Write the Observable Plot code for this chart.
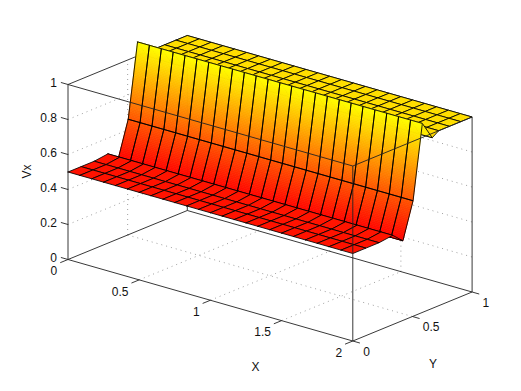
<!DOCTYPE html>
<html>
<head>
<meta charset="utf-8">
<script src="https://cdn.jsdelivr.net/npm/d3@7"></script>
<script src="https://cdn.jsdelivr.net/npm/@observablehq/plot@0.6"></script>
<style>html,body{margin:0;padding:0;background:#fff}svg{display:block}</style>
</head>
<body>
<div id="chart"></div>
<script>
// Surface
const xGrid = [0,0.083,0.167,0.25,0.333,0.417,0.5,0.583,0.667,0.75,0.833,0.917,1,1.083,1.167,1.25,1.333,1.417,1.5,1.583,1.667,1.75,1.833,1.917,2];
const yGrid = [0,0.11,0.22,0.335,0.42,0.505,0.583,0.666,0.72,0.81,0.905,1];
const zRow  = [0.5,0.5,0.5,0.51,0.455,0.66,1.08,0.975,1,1,1,1];
const wallRows = [4,5];       // rows whose faces are shaded by height
const xTicks = [0,0.5,1,1.5,2];
const yTicks = [0,0.5,1];
const zTicks = [0,0.2,0.4,0.6,0.8,1];
const tickText = v => String(v);

// Orthographic view of the (x, y, z) box
const px = d => 67.5 + 142.4 * d[0] + 119.3 * d[1];
const py = d => 259 + 40.75 * d[0] - 49 * d[1] - 175 * d[2];

const cell = (i, j, t0 = 0, t1 = 1) => {
  const ya = yGrid[j] + (yGrid[j+1] - yGrid[j]) * t0, yb = yGrid[j] + (yGrid[j+1] - yGrid[j]) * t1;
  const za = zRow[j] + (zRow[j+1] - zRow[j]) * t0, zb = zRow[j] + (zRow[j+1] - zRow[j]) * t1;
  return [[xGrid[i],ya,za],[xGrid[i+1],ya,za],[xGrid[i+1],yb,zb],[xGrid[i],yb,zb],[xGrid[i],ya,za]];
};
let nextId = 0;
const addFace = (out, pts, c) => { const id = nextId++; pts.forEach(p => out.push({p, id, c})); };
const flatFaces = rows => {
  const out = [];
  for (const j of rows) for (let i = 0; i < xGrid.length - 1; i++)
    addFace(out, cell(i, j), (zRow[j] + zRow[j+1]) / 2);
  return out;
};
const backRows = d3.range(yGrid.length - 2, 5, -1);
const plateau = flatFaces(backRows);
const floor = flatFaces([3,2,1,0]);
const wallShade = [], wallMesh = [];
for (const j of wallRows) {
  const n = Math.ceil(Math.abs(zRow[j+1] - zRow[j]) * 175 / 1.5);
  for (let i = 0; i < xGrid.length - 1; i++) {
    for (let k = 0; k < n; k++) addFace(wallShade, cell(i, j, k / n, (k + 1) / n), zRow[j] + (zRow[j+1] - zRow[j]) * (k + 0.5) / n);
    addFace(wallMesh, cell(i, j), 0);
  }
}

// Box edges as [from, to] in data units
const backEdges = [
  [[0,0,0],[0,1,0]], [[0,1,0],[2,1,0]], [[0,1,0],[0,1,1]], [[0,0,1],[0,1,1]], [[0,1,1],[2,1,1]],
  [[2,1,0],[2,1,1]], [[0,0,0],[0,0,1]], [[0,0,0],[2,0,0]], [[2,0,0],[2,1,0]]
];
const frontEdges = [ [[0,0,1],[2,0,1]], [[2,0,1],[2,1,1]], [[2,0,0],[2,0,1]] ];
const grid = [
  ...xTicks.slice(1,-1).flatMap(v => [ [[v,0,0],[v,1,0]], [[v,1,0],[v,1,1]] ]),
  ...yTicks.slice(1,-1).flatMap(v => [ [[0,v,0],[2,v,0]], [[0,v,0],[0,v,1]] ]),
  ...zTicks.slice(1,-1).flatMap(v => [ [[0,0,v],[0,1,v]], [[0,1,v],[2,1,v]] ])
];
const ticks = [
  ...xTicks.map(v => [[v,0,0],[v,-0.065,0]]),
  ...yTicks.map(v => [[2,v,0],[2.05,v,0]]),
  ...zTicks.map(v => [[0,0,v],[-0.05,0,v]])
];

const seg = (data, o) => Plot.link(data, {
  x1: d => px(d[0]), y1: d => py(d[0]), x2: d => px(d[1]), y2: d => py(d[1]), ...o
});
const faces = (data, o) => Plot.line(data, {x: d => px(d.p), y: d => py(d.p), z: "id", ...o});
const font = {fontSize: 12, fill: "#111"};

const chart = Plot.plot({
  width: 521, height: 391,
  marginTop: 0, marginRight: 0, marginBottom: 0, marginLeft: 0,
  style: {fontFamily: "'Liberation Sans', Arial, sans-serif", background: "#fff"},
  x: {domain: [0, 521], range: [0, 521], axis: null},
  y: {domain: [0, 391], range: [0, 391], axis: null},
  color: {type: "linear", domain: [0.455, 1.08], range: ["#ff0000", "#ffff00"], interpolate: "rgb"},
  marks: [
    seg(grid, {stroke: "#888", strokeWidth: 0.8, strokeDasharray: "1 4"}),
    seg(backEdges, {stroke: "#222", strokeWidth: 0.9}),
    seg(ticks, {stroke: "#222", strokeWidth: 0.9}),
    faces(plateau, {fill: "c", stroke: "#000", strokeWidth: 0.85}),
    faces(wallShade, {fill: "c", stroke: "c", strokeWidth: 0.8}),
    faces(wallMesh, {stroke: "#000", strokeWidth: 0.85}),
    faces(floor, {fill: "c", stroke: "#000", strokeWidth: 0.85}),
    seg(frontEdges, {stroke: "#222", strokeWidth: 0.9}),
    Plot.text(xTicks, {x: v => px([v,0,0]), y: v => py([v,0,0]), text: tickText, textAnchor: "end", dx: -10.7, dy: 12, ...font}),
    Plot.text(yTicks, {x: v => px([2,v,0]), y: v => py([2,v,0]), text: tickText, textAnchor: "start", dx: 10.4, dy: 11, ...font}),
    Plot.text(zTicks, {x: v => px([0,0,v]), y: v => py([0,0,v]), text: tickText, textAnchor: "end", dx: -11, dy: -1.3, ...font}),
    Plot.text(["X"], {x: () => 255, y: () => 366.7, text: d => d, ...font}),
    Plot.text(["Y"], {x: () => 432.5, y: () => 363.3, text: d => d, ...font}),
    Plot.text(["Vx"], {x: () => 27, y: () => 171, text: d => d, rotate: -90, ...font})
  ]
});
document.getElementById("chart").append(chart);
</script>
</body>
</html>
